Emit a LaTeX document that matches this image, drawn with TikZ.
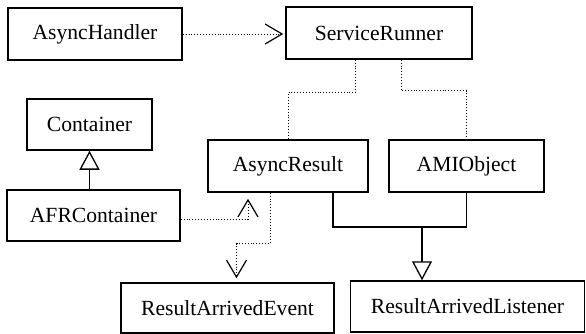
\documentclass[tikz,border=0pt]{standalone}
\usepackage{fontspec}
\setmainfont{Liberation Serif}
\usepackage{tikz}
\usetikzlibrary{positioning, arrows.meta}

\begin{document}
\begin{tikzpicture}[x=1pt, y=-1pt,
  class node/.style={draw, line width=1.5pt, inner sep=0pt,
    font=\fontsize{21.6}{25}\selectfont},
  uses/.style={dotted, line width=0.9pt,
    -{Straight Barb[length=17pt, width=20pt, line width=1.2pt]}},
  link/.style={dotted, line width=0.9pt},
  inherit/.style={line width=1.5pt,
    -{Triangle[open, length=19pt, width=20pt, fill=white, line width=1.3pt]}},
  solid link/.style={line width=1.5pt}]

\useasboundingbox (0,0) rectangle (586,334);

\node[class node, minimum width=174pt, minimum height=52pt] (handler) at (95,34) {AsyncHandler};
\node[class node, minimum width=186pt, minimum height=52pt] (runner) at (379,33) {ServiceRunner};
\node[class node, minimum width=125pt, minimum height=51pt] (container) at (89.5,124.5) {Container};
\node[class node, minimum width=160pt, minimum height=52pt] (result) at (288,166) {AsyncResult};
\node[class node, minimum width=155pt, minimum height=52pt] (ami) at (466.5,166) {AMIObject};
\node[class node, minimum width=173pt, minimum height=51pt] (afr) at (93.5,215.5) {AFRContainer};
\node[class node, minimum width=213pt, minimum height=50pt] (event) at (227.5,308) {ResultArrivedEvent};
\node[class node, minimum width=234pt, minimum height=51pt] (listener) at (467.5,306.5) {ResultArrivedListener};

\coordinate (fork) at (422,227);

% dependencies
\draw[uses, shorten >=2pt] (handler.east) -- (handler.east -| runner.west);
\draw[link] ([xshift=-24pt]runner.south) -- ++(0,33) -| (result.north);
\draw[link] ([xshift=22pt]runner.south) -- ++(0,31) -| (ami.north);
\draw[uses, shorten >=6pt] ([yshift=-3.5pt]afr.east) -| ([xshift=-40pt]result.south);
\draw[uses, shorten >=4pt] ([xshift=-18pt]result.south) -- ++(0,51) -| ([xshift=9pt]event.north);

% generalisation
\draw[inherit] (container.south |- afr.north) -- (container.south);
\draw[solid link] ([xshift=45pt]result.south) |- (fork) -| (ami.south);
\draw[inherit] (fork) -- (fork |- listener.north);

\end{tikzpicture}
\end{document}
